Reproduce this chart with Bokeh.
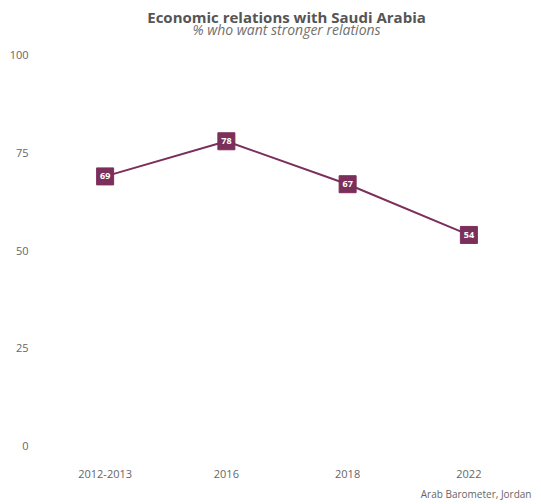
from bokeh.plotting import figure
from bokeh.models import ColumnDataSource, Range1d, FactorRange, Title, Label
from bokeh.core.properties import value
from bokeh.embed import file_html
from bokeh.resources import INLINE

years = ["2012-2013", "2016", "2018", "2022"]
values = [69, 78, 67, 54]
y_ticks = [0, 25, 50, 75, 100]

COLOR = "#7B2F5B"
FONT = "Open Sans"

src = ColumnDataSource(dict(x=years, y=values, lab=[str(v) for v in values]))

p = figure(width=541, height=504, x_range=FactorRange(*years, range_padding=0),
           y_range=Range1d(-2, 114.07), output_backend="svg", toolbar_location=None,
           title=None,
           min_border_left=44, min_border_right=12, min_border_top=0, min_border_bottom=50)

p.line("x", "y", source=src, line_color=COLOR, line_width=2)
p.scatter("x", "y", source=src, marker="square", size=17, fill_color=COLOR, line_color=COLOR)
p.text("x", "y", text="lab", source=src, text_color="white", text_font=value(FONT),
       text_font_style="bold", text_font_size="9px", text_align="center", text_baseline="middle")

p.add_layout(Label(x=242, y=109.72, x_units="screen", y_units="data",
                   text="Economic relations with Saudi Arabia", text_align="center",
                   text_baseline="middle", text_font=FONT, text_font_size="15px",
                   text_font_style="bold", text_color="#555555"))
p.add_layout(Label(x=242, y=106.65, x_units="screen", y_units="data",
                   text="% who want stronger relations", text_align="center",
                   text_baseline="middle", text_font=FONT, text_font_size="14px",
                   text_font_style="italic", text_color="#707070"))
p.add_layout(Title(text="Arab Barometer, Jordan", align="right", text_font=FONT,
                   text_font_size="10px", text_font_style="normal", text_color="#666666",
                   standoff=8, offset=-2), "below")

p.yaxis.ticker = y_ticks
for ax in (p.xaxis, p.yaxis):
    ax.axis_line_color = None
    ax.major_tick_line_color = None
    ax.minor_tick_line_color = None
    ax.major_label_text_font = FONT
    ax.major_label_text_font_size = "11px"
    ax.major_label_text_color = "#666666"
p.yaxis.major_label_standoff = 10
p.xaxis.major_label_standoff = 10

p.xgrid.grid_line_color = None
p.ygrid.grid_line_color = None
p.outline_line_color = None

open("out.html", "w").write(file_html(p, INLINE))
